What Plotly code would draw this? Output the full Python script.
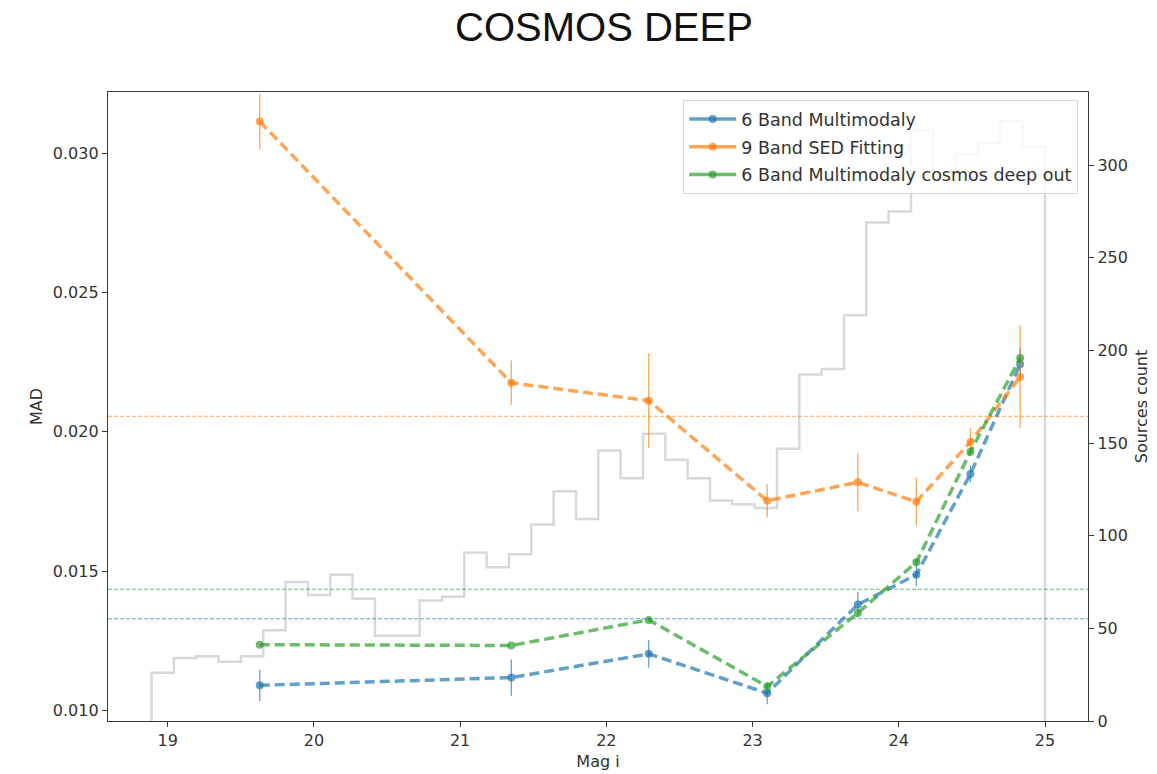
import numpy as np
import plotly.graph_objects as go

# --- photometric-redshift scatter (MAD) per magnitude bin ---
mag_bins = [19.63, 21.35, 22.29, 23.10, 23.72, 24.12, 24.49, 24.83]

mad_6band = [0.0109, 0.01118, 0.01203, 0.01062, 0.01380, 0.01487, 0.01849, 0.02243]
err_6band = [0.00056, 0.00065, 0.0005, 0.0004, 0.00045, 0.0004, 0.0003, 0.0006]

mad_9band = [0.03114, 0.02176, 0.02112, 0.01753, 0.01819, 0.01749, 0.01964, 0.02197]
err_9band = [0.0010, 0.0008, 0.0017, 0.0006, 0.00104, 0.00086, 0.0005, 0.00184]

mad_6band_out = [0.01236, 0.01233, 0.01325, 0.01086, 0.01350, 0.01532, 0.01929, 0.02265]

# overall MAD of each method (horizontal reference lines)
overall_mad = {"6band": 0.01329, "9band": 0.02056, "6band_out": 0.01435}

# --- source counts histogram (40 bins between the magnitude limits) ---
hist_min, hist_max, n_bins = 18.89, 25.0, 40
hist_counts = [26, 34, 35, 32, 35, 49, 75, 68, 79, 66,
               46, 46, 65, 67, 91, 83, 90, 106, 124, 109,
               146, 131, 155, 141, 131, 119, 117, 115, 147, 187,
               190, 219, 269, 275, 319, 294, 306, 312, 324, 310]

x_ticks = [19, 20, 21, 22, 23, 24, 25]
mad_ticks = [0.010, 0.015, 0.020, 0.025, 0.030]
count_ticks = [0, 50, 100, 150, 200, 250, 300]

blue = "rgba(31,119,180,0.7)"
orange = "rgba(255,127,14,0.7)"
green = "rgba(44,160,44,0.7)"
hist_gray = "rgba(128,128,128,0.3)"
axis_col = "#3a3a3a"
text_col = "#333333"
font_tick = "DejaVu Sans"

fig = go.Figure()

# step outline of the histogram on the right axis
edges = np.linspace(hist_min, hist_max, n_bins + 1)
step_x = np.concatenate([[edges[0]], edges])
step_y = np.concatenate([[0], hist_counts, [0]])
fig.add_trace(go.Scatter(
    x=step_x, y=step_y, yaxis="y2", mode="lines",
    line=dict(color=hist_gray, width=2.5, shape="hv"),
    showlegend=False, hoverinfo="skip"))

dash_main = "10px,5px"

def series(name, y, err, color):
    kw = dict(
        x=mag_bins, y=y, name=name, mode="lines+markers",
        line=dict(color=color, width=3.5, dash=dash_main),
        marker=dict(color=color, size=8, symbol="circle"),
        legendgroup=name, showlegend=False,
    )
    if err is not None:
        kw["error_y"] = dict(type="data", array=err, visible=True,
                             color=color, thickness=1.3, width=0)
    return go.Scatter(**kw)

def legend_key(name, color):
    # solid line + marker key for the legend
    return go.Scatter(x=[None], y=[None], name=name, mode="lines+markers",
                      line=dict(color=color, width=3.5),
                      marker=dict(color=color, size=8),
                      legendgroup=name, showlegend=True)

entries = [("6 Band Multimodaly", mad_6band, err_6band, blue),
           ("9 Band SED Fitting", mad_9band, err_9band, orange),
           ("6 Band Multimodaly cosmos deep out", mad_6band_out, None, green)]

for name, y, err, col in entries:
    fig.add_trace(series(name, y, err, col))
for name, _, _, col in entries:
    fig.add_trace(legend_key(name, col))

# overall MAD reference lines across the full width
for key, col in [("9band", orange), ("6band_out", green), ("6band", blue)]:
    fig.add_shape(type="line", xref="paper", x0=0, x1=1,
                  yref="y", y0=overall_mad[key], y1=overall_mad[key],
                  line=dict(color=col, width=1.2, dash="4px,2px"), layer="above")

fig.update_layout(
    width=1157, height=774,
    margin=dict(l=108, r=69, t=92, b=53),
    paper_bgcolor="white", plot_bgcolor="white",
    font=dict(family=font_tick, size=16, color=text_col),
    title=dict(text="COSMOS DEEP", x=0.522, xref="container", xanchor="center",
               y=1 - 27 / 774, yref="container", yanchor="middle",
               font=dict(family="Liberation Sans", size=40, color="#111111")),
    xaxis=dict(
        range=[18.592, 25.294], tickvals=x_ticks, ticktext=[str(v) for v in x_ticks],
        showgrid=False, zeroline=False, showline=True, mirror=True, automargin=False,
        linecolor=axis_col, linewidth=1.4, ticks="outside", ticklen=5,
        tickcolor=axis_col, tickfont=dict(size=16, color=text_col),
        title=dict(text="Mag i", font=dict(size=16, color=text_col), standoff=6)),
    yaxis=dict(
        range=[0.00962, 0.03220], tickvals=mad_ticks,
        ticktext=[f"{v:.3f}" for v in mad_ticks], automargin=False,
        showgrid=False, zeroline=False, showline=True,
        linecolor=axis_col, linewidth=1.4, ticks="outside", ticklen=5,
        tickcolor=axis_col, tickfont=dict(size=16, color=text_col),
        title=dict(text="MAD", font=dict(size=16, color=text_col), standoff=6)),
    yaxis2=dict(
        range=[0, 339.5], tickvals=count_ticks, overlaying="y", side="right",
        showgrid=False, zeroline=False, showline=True, automargin=False,
        linecolor=axis_col, linewidth=1.4, ticks="outside", ticklen=5,
        tickcolor=axis_col, tickfont=dict(size=16, color=text_col),
        title=dict(text="Sources count", font=dict(size=16, color=text_col), standoff=8)),
    legend=dict(
        x=0.99, y=0.987, xanchor="right", yanchor="top",
        bgcolor="rgba(255,255,255,0.8)", bordercolor="#d8d8d8", borderwidth=1,
        font=dict(size=17.5, color=text_col, family=font_tick),
        tracegroupgap=2, itemwidth=47),
)

fig.write_html("out.html", config={"displayModeBar": False})
